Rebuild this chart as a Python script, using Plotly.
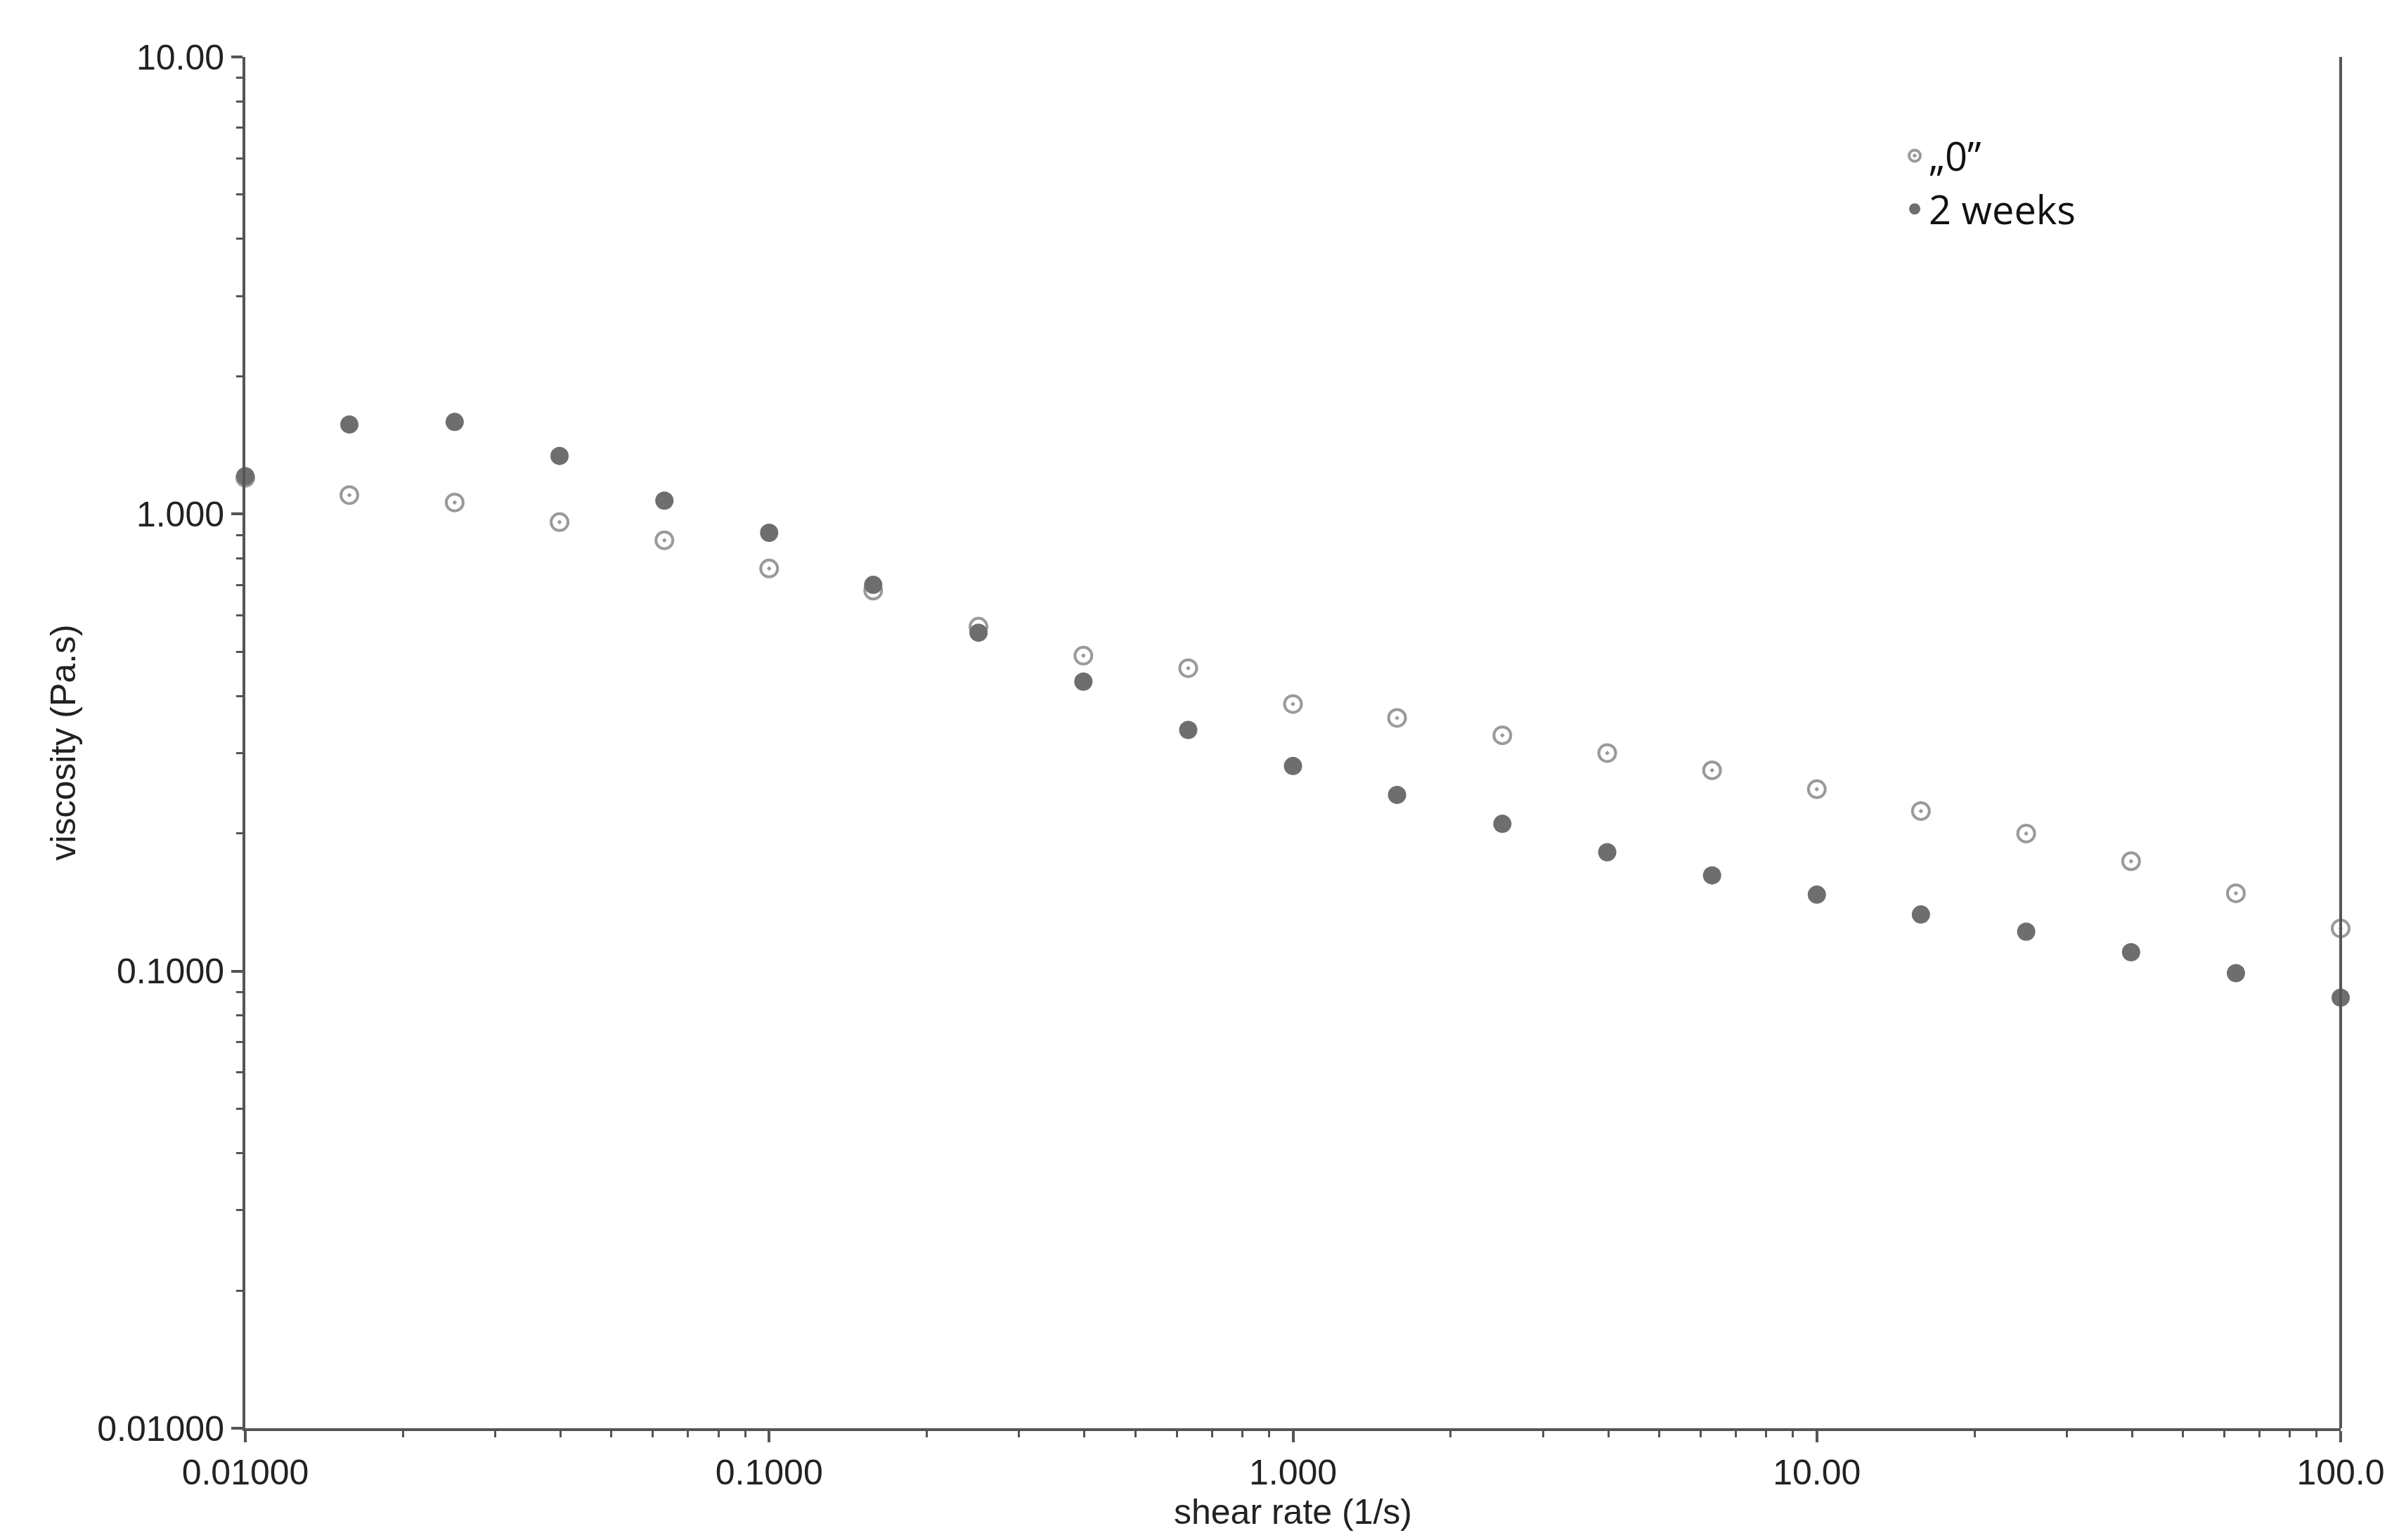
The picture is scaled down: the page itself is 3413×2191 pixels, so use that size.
import plotly.graph_objects as go

shear_rate = [0.01, 0.0158, 0.0251, 0.0398, 0.0631, 0.1, 0.158, 0.251, 0.398, 0.631, 1.0,
              1.58, 2.51, 3.98, 6.31, 10.0, 15.8, 25.1, 39.8, 63.1, 100.0]
visc_0 = [1.20, 1.10, 1.06, 0.96, 0.876, 0.76, 0.68, 0.567, 0.49, 0.46, 0.384,
          0.358, 0.328, 0.30, 0.275, 0.25, 0.224, 0.20, 0.174, 0.148, 0.124]
visc_2w = [1.21, 1.57, 1.59, 1.34, 1.07, 0.91, 0.70, 0.55, 0.43, 0.337, 0.281,
           0.243, 0.21, 0.182, 0.162, 0.147, 0.133, 0.122, 0.110, 0.099, 0.0875]
xtick_vals = [0.01, 0.1, 1, 10, 100]
xtick_text = ["0.01000", "0.1000", "1.000", "10.00", "100.0"]
ytick_vals = [0.01, 0.1, 1, 10]
ytick_text = ["0.01000", "0.1000", "1.000", "10.00"]

fig = go.Figure()
fig.add_trace(go.Scatter(x=shear_rate, y=visc_0, mode="markers", name="„0”",
                         marker=dict(symbol="circle-open-dot", size=24, color="#9a9a9a",
                                     line=dict(width=4, color="#9a9a9a")), cliponaxis=False))
fig.add_trace(go.Scatter(x=shear_rate, y=visc_2w, mode="markers", name="2 weeks",
                         marker=dict(symbol="circle", size=26, color="#6e6e6e"), cliponaxis=False))

axis_common = dict(type="log", showgrid=False, zeroline=False, showline=True,
                   linecolor="#555", linewidth=4, ticks="outside", ticklen=16, tickwidth=4,
                   tickcolor="#555", tickfont=dict(family="Liberation Sans, Arial", size=50, color="#222"),
                   minor=dict(ticks="outside", ticklen=9, tickwidth=3, tickcolor="#555", dtick="D1", showgrid=False))
fig.update_xaxes(range=[-2, 2], tickvals=xtick_vals, ticktext=xtick_text,
                 title=dict(text="shear rate (1/s)", font=dict(family="Liberation Sans, Arial", size=50, color="#222"), standoff=2),
                 **axis_common)
fig.update_yaxes(range=[-2, 1], tickvals=ytick_vals, ticktext=ytick_text,
                 title=dict(text="viscosity (Pa.s)", font=dict(family="Liberation Sans, Arial", size=50, color="#222"), standoff=16),
                 **axis_common)
fig.add_shape(type="line", xref="paper", yref="paper", x0=1, x1=1, y0=0, y1=1,
              line=dict(color="#555", width=4))
fig.update_layout(width=3413, height=2191, plot_bgcolor="white", paper_bgcolor="white",
                  margin=dict(l=341, r=91, t=73, b=167),
                  legend=dict(x=0.79, y=0.95, xanchor="left", yanchor="top", tracegroupgap=0,
                              font=dict(family="Open Sans", size=56, color="#111"),
                              bgcolor="rgba(0,0,0,0)", itemwidth=30))
fig.write_html("out.html")
